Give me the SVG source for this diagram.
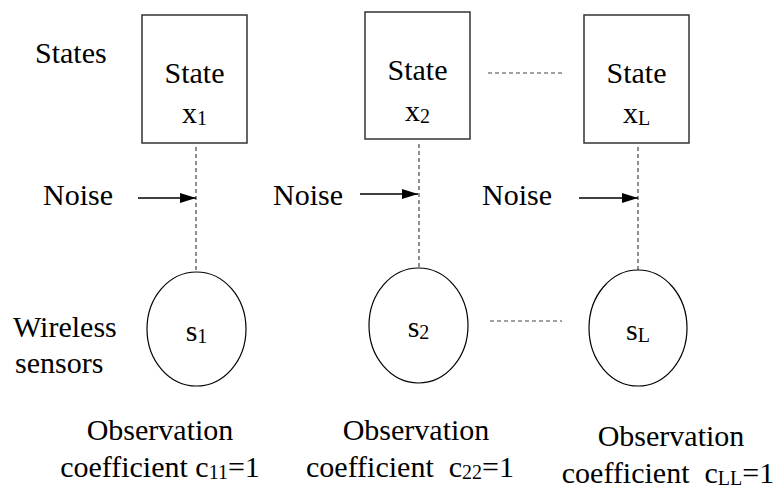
<svg xmlns="http://www.w3.org/2000/svg" width="780" height="487" viewBox="0 0 780 487">
  <style>
    .t { font-family: "Liberation Serif", serif; font-size: 30px; fill: #000; }
    .c { text-anchor: middle; }
    .sub { font-size: 20px; }
    .box { fill: #fff; stroke: #333; stroke-width: 1.5; }
    .sensor { fill: #fff; stroke: #000; stroke-width: 1.2; }
    .dash { fill: none; stroke: #444; stroke-width: 1.2; stroke-dasharray: 4 3; }
    .arrow { fill: none; stroke: #000; stroke-width: 1.3; marker-end: url(#head); }
  </style>
  <defs>
    <marker id="head" viewBox="0 0 16 10" refX="16" refY="5" markerWidth="16" markerHeight="10" markerUnits="userSpaceOnUse" orient="auto">
      <path d="M0,0 L16,5 L0,10 Z" fill="#000"/>
    </marker>
  </defs>

  <!-- connectors: state-to-sensor links, noise inputs, ellipsis links -->
  <g id="connectors">
    <line class="dash" x1="196" y1="147" x2="196" y2="272"/>
    <line class="dash" x1="419" y1="144" x2="419" y2="268"/>
    <line class="dash" x1="638" y1="147" x2="638" y2="270"/>
    <line class="dash" x1="488" y1="73" x2="562" y2="73"/>
    <line class="dash" x1="490" y1="321" x2="562" y2="321"/>
    <line class="arrow" x1="138" y1="198" x2="196" y2="198"/>
    <line class="arrow" x1="360" y1="194" x2="418" y2="194"/>
    <line class="arrow" x1="579" y1="198" x2="638" y2="198"/>
  </g>

  <!-- row labels -->
  <g id="labels" class="t">
    <text x="35" y="63">States</text>
    <text x="13" y="337">Wireless</text>
    <text x="15" y="373">sensors</text>
  </g>

  <!-- noise labels -->
  <g id="noise" class="t">
    <text x="43" y="205">Noise</text>
    <text x="273" y="205">Noise</text>
    <text x="482" y="205">Noise</text>
  </g>

  <g id="state1" class="t">
    <rect class="box" x="142" y="15" width="105" height="128"/>
    <text class="c" x="194.5" y="83">State</text>
    <text class="c" x="194.5" y="123">x<tspan class="sub" dy="2">1</tspan></text>
  </g>
  <g id="state2" class="t">
    <rect class="box" x="365" y="12" width="105" height="127"/>
    <text class="c" x="417.5" y="80">State</text>
    <text class="c" x="417.5" y="121">x<tspan class="sub" dy="2">2</tspan></text>
  </g>
  <g id="stateL" class="t">
    <rect class="box" x="584" y="15" width="105" height="128"/>
    <text class="c" x="636.5" y="83">State</text>
    <text class="c" x="636.5" y="123">x<tspan class="sub" dy="2">L</tspan></text>
  </g>

  <g id="sensor1" class="t">
    <ellipse class="sensor" cx="196.5" cy="329" rx="49.5" ry="57"/>
    <text class="c" x="196.5" y="341">s<tspan class="sub" dy="2">1</tspan></text>
  </g>
  <g id="sensor2" class="t">
    <ellipse class="sensor" cx="418.5" cy="325.5" rx="49.5" ry="57.5"/>
    <text class="c" x="418.5" y="337">s<tspan class="sub" dy="2">2</tspan></text>
  </g>
  <g id="sensorL" class="t">
    <ellipse class="sensor" cx="638" cy="328" rx="49" ry="58"/>
    <text class="c" x="638" y="340">s<tspan class="sub" dy="2">L</tspan></text>
  </g>

  <!-- observation coefficients -->
  <g id="coeff1" class="t">
    <text class="c" x="160" y="440">Observation</text>
    <text class="c" x="160" y="477">coefficient c<tspan class="sub" dy="2">11</tspan><tspan dy="-2">=1</tspan></text>
  </g>
  <g id="coeff2" class="t">
    <text class="c" x="416" y="440">Observation</text>
    <text class="c" x="410" y="477" xml:space="preserve">coefficient  c<tspan class="sub" dy="2">22</tspan><tspan dy="-2">=1</tspan></text>
  </g>
  <g id="coeffL" class="t">
    <text class="c" x="671" y="446">Observation</text>
    <text class="c" x="668" y="483" xml:space="preserve">coefficient  c<tspan class="sub" dy="2">LL</tspan><tspan dy="-2">=1</tspan></text>
  </g>
</svg>
